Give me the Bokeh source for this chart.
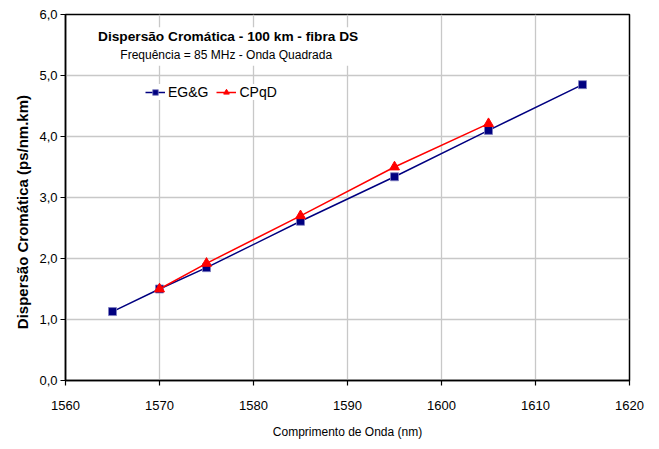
from bokeh.plotting import figure
from bokeh.models import (Legend, LegendItem, Label, BoxAnnotation, FixedTicker)
from bokeh.embed import file_html
from bokeh.resources import INLINE

# Data
egg_x = [1565, 1570, 1575, 1585, 1595, 1605, 1615]
egg_y = [1.13, 1.50, 1.85, 2.61, 3.34, 4.10, 4.85]
cpqd_x = [1570, 1575, 1585, 1595, 1605]
cpqd_y = [1.50, 1.92, 2.70, 3.50, 4.21]
x_ticks = [1560, 1570, 1580, 1590, 1600, 1610, 1620]
y_ticks = [0, 1, 2, 3, 4, 5, 6]
y_tick_labels = ["0,0", "1,0", "2,0", "3,0", "4,0", "5,0", "6,0"]

title1 = "Dispersão Cromática - 100 km - fibra DS"
title2 = "Frequência = 85 MHz - Onda Quadrada"
x_title = "Comprimento de Onda (nm)"
y_title = "Dispersão Cromática (ps/nm.km)"

FONT = "Liberation Sans"

p = figure(width=645, height=441, output_backend="svg", toolbar_location=None,
           x_range=(1560, 1620), y_range=(0, 6),
           min_border_left=65, min_border_right=16, min_border_top=14, min_border_bottom=61)

p.outline_line_color = "black"
p.outline_line_width = 1.5
p.background_fill_color = "white"
p.border_fill_color = "white"

for ax in (p.xaxis[0], p.yaxis[0]):
    ax.axis_line_color = "black"
    ax.axis_line_width = 1.5
    ax.major_tick_line_color = "black"
    ax.major_tick_line_width = 1.2
    ax.major_tick_out = 5
    ax.major_tick_in = 0
    ax.minor_tick_line_color = None
    ax.major_label_text_font = FONT
    ax.major_label_text_font_size = "13px"
    ax.major_label_text_color = "black"
    ax.axis_label_text_color = "black"

p.xaxis.ticker = FixedTicker(ticks=x_ticks)
p.yaxis.ticker = FixedTicker(ticks=y_ticks)
p.yaxis.major_label_overrides = {t: l for t, l in zip(y_ticks, y_tick_labels)}
p.xaxis.axis_label = x_title
p.xaxis.axis_label_text_font = FONT
p.xaxis.axis_label_text_font_size = "12px"
p.xaxis.axis_label_text_font_style = "normal"
p.xaxis.major_label_standoff = 15
p.xaxis.axis_label_standoff = 12
# trailing no-break spaces push the visible title a little lower, as in the reference
p.yaxis.axis_label = y_title + "\u00a0" * 7
p.yaxis.axis_label_text_font = FONT
p.yaxis.axis_label_text_font_size = "15px"
p.yaxis.axis_label_text_font_style = "bold"
p.yaxis.major_label_standoff = 3
p.yaxis.axis_label_standoff = 5

p.xgrid.grid_line_color = "#c8c8c8"
p.ygrid.grid_line_color = "#c8c8c8"
p.xgrid.grid_line_width = 1.3
p.ygrid.grid_line_width = 1.3

l1 = p.line(egg_x, egg_y, line_color="#000080", line_width=1.5)
m1 = p.scatter(egg_x, egg_y, marker="square", size=8, fill_color="#000080", line_color="#8080c0", line_width=0.8)
l2 = p.line(cpqd_x, cpqd_y, line_color="#ff0000", line_width=1.5)
m2 = p.scatter(cpqd_x, cpqd_y, marker="triangle", size=10, fill_color="#ff0000", line_color="#ff0000")

# white box behind the title
p.add_layout(BoxAnnotation(left=1562.7, right=1591.9, bottom=5.16, top=5.79,
                           fill_color="white", fill_alpha=1, line_color=None, level="underlay"))

p.add_layout(Label(x=1577.3, y=5.64, text=title1, text_align="center", text_baseline="middle",
                   text_font=FONT, text_font_size="13.7px", text_font_style="bold", text_color="black"))
p.add_layout(Label(x=1577.1, y=5.33, text=title2, text_align="center", text_baseline="middle",
                   text_font=FONT, text_font_size="12px", text_color="black"))

legend = Legend(items=[LegendItem(label="EG&G", renderers=[l1, m1]),
                       LegendItem(label="CPqD", renderers=[l2, m2])],
                orientation="horizontal", location=(80, 280),
                background_fill_color="white", background_fill_alpha=1,
                border_line_color=None, label_text_font=FONT, label_text_font_size="14px",
                label_text_color="black",
                glyph_width=20, glyph_height=14, label_standoff=3, spacing=8,
                padding=6, margin=0)
p.add_layout(legend, "center")

open("out.html", "w").write(file_html(p, INLINE))
